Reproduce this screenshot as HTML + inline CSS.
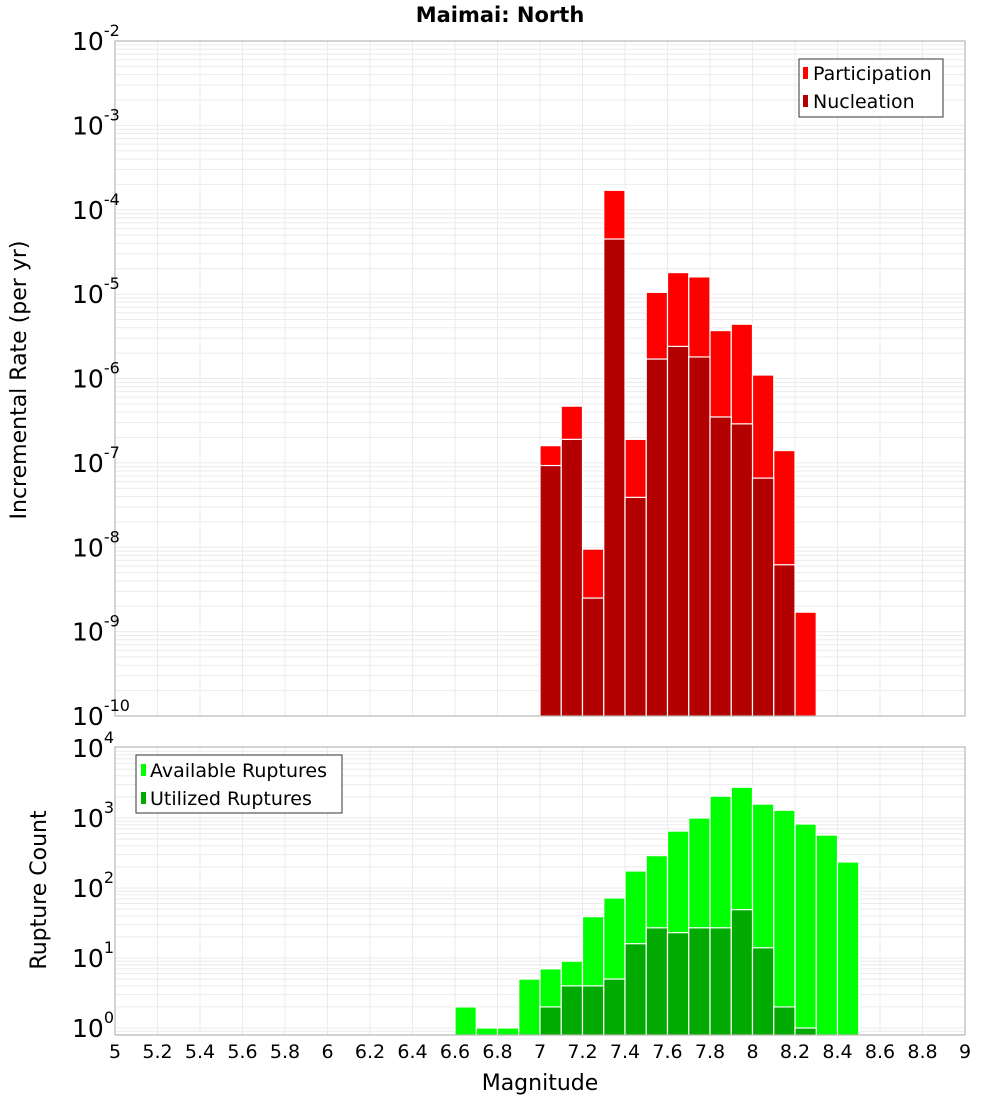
<!DOCTYPE html>
<html><head><meta charset="utf-8"><style>
body{margin:0;background:#fff;font-family:"Liberation Sans","DejaVu Sans",sans-serif;}
svg text{font-family:"DejaVu Sans","Liberation Sans",sans-serif;}
</style></head><body>
<svg id="chart" width="1000" height="1100" xmlns="http://www.w3.org/2000/svg">
<text x="500" y="22" text-anchor="middle" font-size="21" font-weight="bold">Maimai: North</text>
<text transform="translate(26,380) rotate(-90)" text-anchor="middle" font-size="22">Incremental Rate (per yr)</text>
<text transform="translate(46,890) rotate(-90)" text-anchor="middle" font-size="22">Rupture Count</text>
<text x="540" y="1090" text-anchor="middle" font-size="22">Magnitude</text>
<g id="top"></g><g id="bot"></g><g id="xt"></g>
<g>
<rect x="799" y="59" width="144" height="58" fill="#fff" stroke="#333"/>
<rect x="803" y="67" width="5" height="12" fill="#ff0000"/>
<text x="813" y="80" font-size="19">Participation</text>
<rect x="803" y="95" width="5" height="12" fill="#b30000"/>
<text x="813" y="108" font-size="19">Nucleation</text>
</g>
<g>
<rect x="136" y="755" width="206" height="58" fill="#fff" stroke="#333"/>
<rect x="141" y="764" width="5" height="12" fill="#00ff00"/>
<text x="150" y="777" font-size="19">Available Ruptures</text>
<rect x="141" y="792" width="5" height="12" fill="#00aa00"/>
<text x="150" y="805" font-size="19">Utilized Ruptures</text>
</g>
</svg>
<script>
const NS="http://www.w3.org/2000/svg";
const topMags=[7.0,7.1,7.2,7.3,7.4,7.5,7.6,7.7,7.8,7.9,8.0,8.1,8.2];
const participation=[1.6e-7,4.7e-7,9.5e-9,1.7e-4,1.9e-7,1.05e-5,1.8e-5,1.6e-5,3.7e-6,4.4e-6,1.1e-6,1.4e-7,1.7e-9];
const nucleation=[9.3e-8,1.9e-7,2.5e-9,4.5e-5,3.9e-8,1.7e-6,2.4e-6,1.8e-6,3.5e-7,2.9e-7,6.6e-8,6.2e-9,0];
const botMags=[6.6,6.7,6.8,6.9,7.0,7.1,7.2,7.3,7.4,7.5,7.6,7.7,7.8,7.9,8.0,8.1,8.2,8.3,8.4];
const available=[2,1,1,5,7,9,39,72,175,290,650,1000,2050,2750,1580,1290,820,570,235];
const utilized=[0,0,0,0,2,4,4,5,16,27,23,27,27,49,14,2,1,0,0];
const xTicks=["5","5.2","5.4","5.6","5.8","6","6.2","6.4","6.6","6.8","7","7.2","7.4","7.6","7.8","8","8.2","8.4","8.6","8.8","9"];
const topExp=[-2,-3,-4,-5,-6,-7,-8,-9,-10];
const botExp=[4,3,2,1,0];
const L=115,R=965;
const X=m=>L+(m-5)/4*(R-L);
const TT=41,TB=716;
const YT=v=>TT+(-2-Math.log10(v))*(TB-TT)/8;
const BT=747,BB=1035;
const YB=v=>1028-Math.log10(v)*70;
function el(p,t,a){const e=document.createElementNS(NS,t);for(const k in a)e.setAttribute(k,a[k]);p.appendChild(e);return e;}
function panel(g,top,bot,yf,lo,hi){
  el(g,'rect',{x:L,y:top,width:R-L,height:bot-top,fill:'#fff'});
  for(let d=lo;d<hi;d++)for(let k=1;k<10;k++){const y=yf(k*Math.pow(10,d));if(y>=top&&y<=bot){const ln=el(g,'line',{x1:L,x2:R,y1:y,y2:y,stroke:'#ebebeb','stroke-width':1});}}
  for(let i=0;i<=20;i++){const x=X(5+i*0.2);el(g,'line',{x1:x,x2:x,y1:top,y2:bot,stroke:'#ebebeb','stroke-width':1});}
}
const gt=document.getElementById('top'),gb=document.getElementById('bot'),gx=document.getElementById('xt');
panel(gt,TT,TB,YT,-10,-2);
panel(gb,BT,BB,YB,-1,4);
const w=X(5.1)-X(5);
function bar(g,m,v,yf,base,fill,name){
  if(!(v>0))return;
  const y=yf(v);
  const r=el(g,'rect',{x:X(m),y:y,width:w,height:base-y,fill:fill,stroke:'#fff','stroke-width':1.2});
  
  
}
topMags.forEach((m,i)=>{bar(gt,m,participation[i],YT,TB,'#ff0000','participation-bar');});
topMags.forEach((m,i)=>{bar(gt,m,nucleation[i],YT,TB,'#b30000','nucleation-bar');});
botMags.forEach((m,i)=>{bar(gb,m,available[i],YB,BB,'#00ff00','available-bar');});
botMags.forEach((m,i)=>{bar(gb,m,utilized[i],YB,BB,'#00aa00','utilized-bar');});
el(gt,'rect',{x:L,y:TT,width:R-L,height:TB-TT,fill:'none',stroke:'#aaa'});
el(gb,'rect',{x:L,y:BT,width:R-L,height:BB-BT,fill:'none',stroke:'#aaa'});
function ylab(g,e,y,name){
  const t=el(g,'text',{x:104,y:y+9,'text-anchor':'end','font-size':25});
  
  
  const a=el(t,'tspan',{});a.textContent='10';
  const b=el(t,'tspan',{dy:-14,'font-size':16});b.textContent=String(e);
  t.setAttribute('x',72);t.setAttribute('text-anchor','start');
}
topExp.forEach(e=>ylab(gt,e,YT(Math.pow(10,e)),'top-y-tick-label'));
botExp.forEach(e=>ylab(gb,e,YB(Math.pow(10,e)),'bottom-y-tick-label'));
xTicks.forEach((s,i)=>{
  const t=el(gx,'text',{x:X(parseFloat(s)),y:1058,'text-anchor':'middle','font-size':19});
  t.textContent=s;
  
  
});
</script>
</body></html>
